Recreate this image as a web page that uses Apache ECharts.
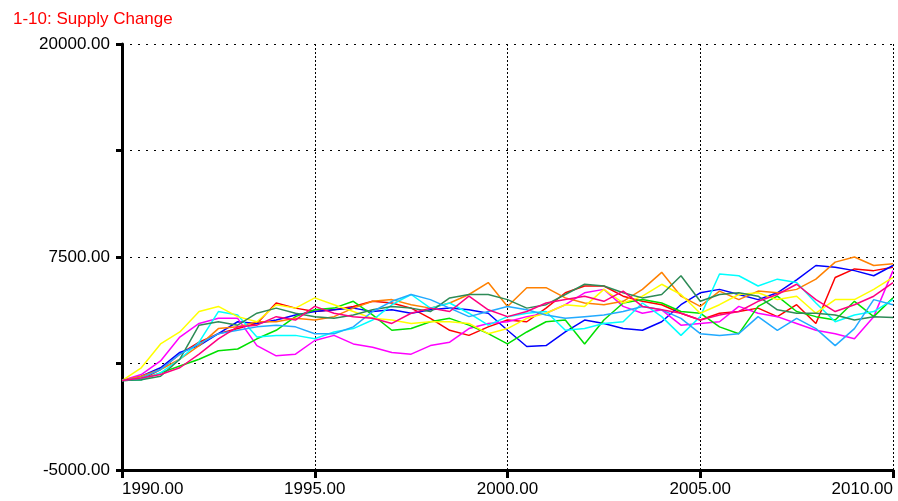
<!DOCTYPE html>
<html>
<head>
<meta charset="utf-8">
<script src="https://cdn.jsdelivr.net/npm/echarts@6/dist/echarts.min.js"></script>
<style>
html,body{margin:0;padding:0;background:#fff;}
#chart{width:898px;height:501px;}
</style>
</head>
<body>
<div id="chart"></div>
<script>
// Time points (years)
const years = [1990,1990.5,1991,1991.5,1992,1992.5,1993,1993.5,1994,1994.5,
  1995,1995.5,1996,1996.5,1997,1997.5,1998,1998.5,1999,1999.5,
  2000,2000.5,2001,2001.5,2002,2002.5,2003,2003.5,2004,2004.5,
  2005,2005.5,2006,2006.5,2007,2007.5,2008,2008.5,2009,2009.5,2010];

// Y-axis tick labels shown
const yLabels = [-5000, 7500, 20000];

// Series values (Supply Change, runs 1-10)
const run1 = [250,300,900,1800,2500,3000,3300,3600,4800,4500,4300,4400,4600,4900,4800,4500,3900,3200,2900,3400,3800,3700,4500,5400,5800,5800,5200,4900,4700,4200,3800,4200,4300,4500,4000,4700,3600,6300,6800,6700,6900];
const run2 = [250,500,1000,1900,2300,3000,3700,3600,3800,4100,4300,4400,4500,4300,4400,4200,4400,4500,4400,4200,3200,2250,2300,3100,3800,3600,3300,3200,3700,4700,5400,5600,5300,5000,5400,6160,7000,6900,6700,6400,7000];
const run3 = [250,600,1400,2800,3600,3900,3900,2300,1700,1800,2600,2900,2400,2200,1900,1800,2300,2500,3300,3600,3700,4000,4200,4700,5400,5600,4600,4200,4400,3500,3600,3700,4600,4200,4000,3600,3200,3000,2700,4000,6700];
const run4 = [250,300,700,1100,1500,2000,2100,2700,3200,4000,4400,4500,4900,4100,3200,3300,3700,3900,3500,3000,2400,3100,3700,3800,2400,3800,4800,5000,4800,4300,4200,3400,3000,4600,5200,4300,4000,3800,4900,4000,5100];
const run5 = [250,500,900,1500,2300,3300,3400,3700,3700,3900,3800,4000,4500,4900,5000,4700,4500,4800,5300,6000,4600,5700,5700,5100,4800,4700,4900,5600,6600,5200,4600,5500,5000,5500,5400,5600,6200,7200,7500,7000,7100];
const run6 = [250,300,700,1500,2500,4300,4100,2800,2900,2900,2700,3100,3300,3800,4700,5300,4500,4800,4200,3500,4000,4200,4300,3200,3300,3600,3700,4800,4000,2900,4000,6500,6400,5800,6200,6000,4800,3700,4100,4300,5000];
const run7 = [250,1000,2400,3100,4300,4600,4000,3700,4700,4500,5100,4700,4300,3900,3800,3600,3700,3700,3600,3000,3300,3900,4200,4700,4600,5600,4800,5200,5900,5300,4200,4700,5300,5400,5000,5200,4200,5000,5000,5600,6300];
const run8 = [250,300,500,1500,3500,3700,3500,4200,4500,4200,4000,3900,4100,4400,4600,4500,4300,5100,5300,5300,5000,4500,4700,5300,5900,5800,5400,5100,5300,6400,4900,5300,5400,5200,4400,4200,4200,4100,3800,4000,3950];
const run9 = [250,400,900,1800,2400,3000,3200,3400,3500,3400,3000,3000,3400,4300,4900,5300,5000,4500,4000,4300,4600,4400,4100,3900,4000,4100,4300,4600,4400,3900,3000,2900,3000,4000,3200,3900,3300,2300,3300,5000,4700];
const run10 = [250,400,600,1000,1800,2700,3400,3500,4000,3800,4600,4200,4000,3900,3600,4200,4500,4300,5200,4400,4000,4300,4800,5000,5200,4900,5500,4600,4400,4200,3800,4100,4300,4900,5300,5900,5000,4300,4700,5200,6000];

const runs = [run1, run2, run3, run4, run5, run6, run7, run8, run9, run10];
const colors = ['#ff0000','#0000ff','#ff00ff','#00e000','#ff8000','#00ffff','#ffff00','#2e8b57','#22aaff','#ff0080'];

const font = 'Liberation Sans, Arial, sans-serif';
const chart = echarts.init(document.getElementById('chart'), null, {renderer: 'canvas'});
chart.setOption({
  animation: false,
  backgroundColor: '#ffffff',
  title: {
    text: '1-10: Supply Change',
    left: 8, top: 6,
    textStyle: {color: '#ff0000', fontSize: 17, fontWeight: 'normal', fontFamily: font}
  },
  grid: {left: 122, right: 5, top: 44, bottom: 31, containLabel: false},
  xAxis: {
    type: 'value', min: 1990, max: 2010, interval: 5,
    axisLine: {onZero: false, lineStyle: {color: '#000', width: 3}},
    axisTick: {show: true, length: 8, lineStyle: {color: '#000', width: 3}},
    axisLabel: {
      color: '#000', fontSize: 17, fontFamily: font, margin: 11,
      alignMinLabel: 'left', alignMaxLabel: 'right',
      formatter: v => v.toFixed(2)
    },
    splitLine: {show: true, lineStyle: {color: '#000', width: 1, type: [2, 2]}}
  },
  yAxis: {
    type: 'value', min: -5000, max: 20000, interval: 6250,
    axisLine: {show: true, onZero: false, lineStyle: {color: '#000', width: 3}},
    axisTick: {show: true, length: 6, lineStyle: {color: '#000', width: 3}},
    axisLabel: {
      color: '#000', fontSize: 17, fontFamily: font, margin: 12,
      formatter: v => yLabels.includes(v) ? v.toFixed(2) : ''
    },
    splitLine: {show: true, lineStyle: {color: '#000', width: 1, type: [2, 6]}}
  },
  series: runs.map((r, i) => ({
    type: 'line',
    name: 'Run ' + (i + 1),
    data: years.map((y, j) => [y, r[j]]),
    showSymbol: false,
    symbol: 'none',
    lineStyle: {color: colors[i], width: 1.5},
    itemStyle: {color: colors[i]},
    z: 3
  }))
});
</script>
</body>
</html>
